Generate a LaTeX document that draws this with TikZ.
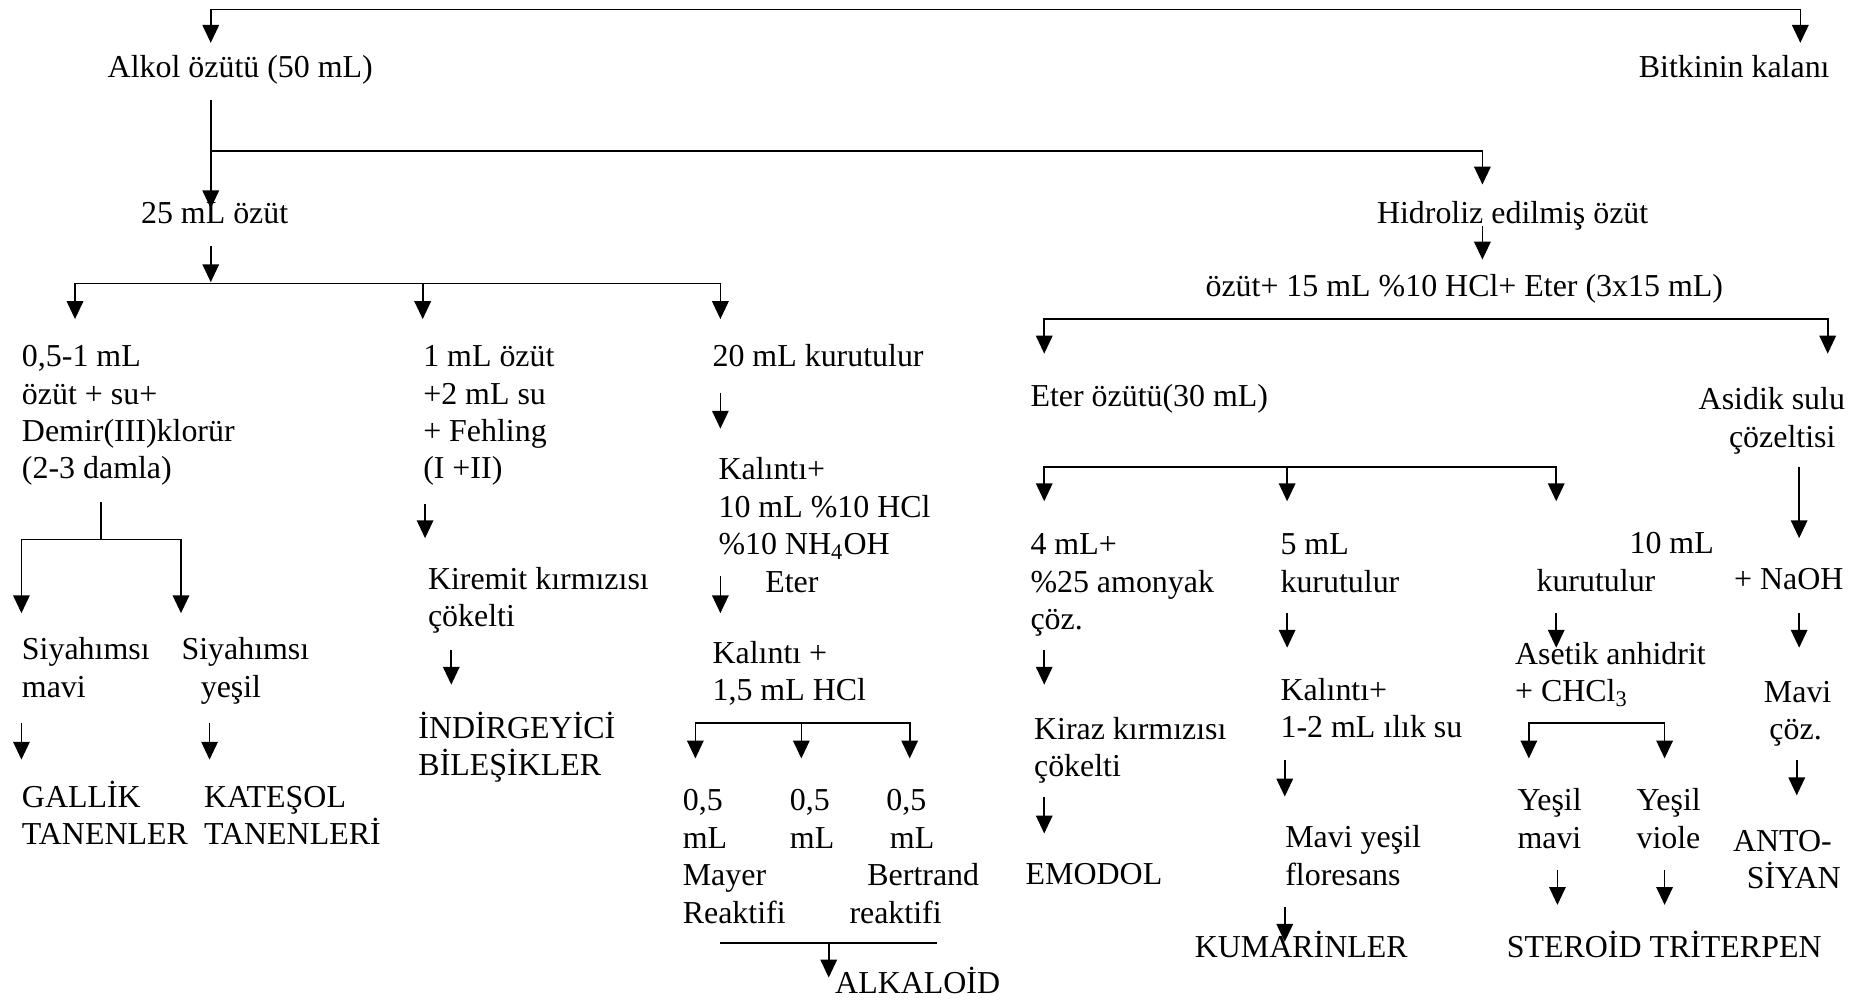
\documentclass[tikz,border=0pt]{standalone}
\usepackage{fontspec}
\setmainfont{Liberation Serif}
\usetikzlibrary{arrows.meta}
\tikzstyle{flowPage} = [x=0.4327pt, y=-0.4327pt]
\tikzstyle{flowText} = [anchor=base west, inner sep=0pt, align=left, font=\fontsize{11.6}{13.6}\selectfont]
\tikzset{lineCount/.style={yshift={-(#1-1)*13.6pt}}}
\tikzstyle{flowLine} = [line width=0.6pt]
\tikzstyle{flowArrow} = [flowLine, -{Triangle[width=6pt, length=6.5pt]}]
\tikzstyle{forkArrow} = [flowLine, {Triangle[width=6pt, length=6.5pt]}-{Triangle[width=6pt, length=6.5pt]}]
\newcommand{\stepArrow}[4]{
  \coordinate (#1Top) at (#2, #3);
  \coordinate (#1Tip) at (#2, #4);
  \draw [flowArrow] (#1Top) -- (#1Tip);
}
\newcommand{\forkBar}[5]{
  \coordinate (#1Left) at (#2, #5);
  \coordinate (#1Right) at (#3, #5);
  \coordinate (#1Corner) at (#3, #4);
  \draw [forkArrow] (#1Left) |- (#1Corner) -- (#1Right);
}

\begin{document}
\begin{tikzpicture}[flowPage]
  \useasboundingbox (0,0) rectangle (1568,840);

  % upper part
  \node [flowText] (alkol) at (90,65) {Alkol özütü (50 mL)};
  \node [flowText, anchor=base east] (kalan) at (1537,65) {Bitkinin kalanı};
  \node [flowText] (ozut) at (118,188) {25 mL özüt};
  \node [flowText] (hidroliz) at (1156,188) {Hidroliz edilmiş özüt};
  \node [flowText] (eterEkle) at (1012,249) {özüt+ 15 mL \%10 HCl+ Eter (3x15 mL)};

  \forkBar{bitki}{177}{1512}{8}{36}
  \stepArrow{alkolDown}{177}{84}{175}
  \coordinate (hidrolizStart) at (178,127);
  \coordinate (hidrolizTip) at (1245,155);
  \draw [flowArrow] (hidrolizStart) -| (hidrolizTip);
  \stepArrow{hidrolizDown}{1245}{190}{218}
  \stepArrow{ozutDown}{177}{207}{237}
  \forkBar{ozutFork}{63}{605}{238}{268}
  \stepArrow{fehlingIn}{355}{238}{268}
  \forkBar{eterFork}{877}{1535}{268}{297}

  % left branch
  \node [flowText, lineCount=4] (demir) at (18,308) {0,5-1 mL\\özüt + su+\\Demir(III)klorür\\(2-3 damla)};
  \coordinate (demirStem) at (85,422);
  \coordinate (demirJoin) at (85,453);
  \draw [flowLine] (demirStem) -- (demirJoin);
  \forkBar{demirFork}{18}{152}{453}{515}
  \node [flowText, lineCount=2] (siyahMavi) at (18,554) {Siyahımsı\\mavi};
  \node [flowText, lineCount=2] (siyahYesil) at (152,554) {Siyahımsı\\\hspace*{7pt}yeşil};
  \stepArrow{galDown}{18}{607}{638}
  \stepArrow{katDown}{176}{607}{638}
  \node [flowText, lineCount=2] (gallik) at (18,678) {GALLİK\\TANENLER};
  \node [flowText, lineCount=2] (katesol) at (171,678) {KATEŞOL\\TANENLERİ};

  \node [flowText, lineCount=4] (fehling) at (355,308) {1 mL özüt\\+2 mL su\\+ Fehling\\(I +II)};
  \stepArrow{fehlingDown}{357}{423}{452}
  \node [flowText, lineCount=2] (kiremit) at (359,495) {Kiremit kırmızısı\\çökelti};
  \stepArrow{kiremitDown}{379}{546}{575}
  \node [flowText, lineCount=2] (indirgeyici) at (351,620) {İNDİRGEYİCİ\\BİLEŞİKLER};

  \node [flowText] (kurutulurA) at (598,308) {20 mL kurutulur};
  \stepArrow{kurADown}{605}{330}{360}
  \node [flowText, lineCount=4] (kalintiA) at (603,403) {Kalıntı+\\10 mL \%10 HCl\\\%10 NH\textsubscript{4}OH\\\hspace*{17pt}Eter};
  \stepArrow{kalADown}{605}{484}{515}
  \node [flowText, lineCount=2] (kalintiB) at (598,557) {Kalıntı +\\1,5 mL HCl};
  \forkBar{reaktifFork}{584}{764}{607}{637}
  \stepArrow{reaktifMid}{673}{607}{637}
  \node [flowText, lineCount=4] (mayer) at (573,681) {0,5\\mL\\Mayer\\Reaktifi};
  \node [flowText, lineCount=2] (orta) at (663,681) {0,5\\mL};
  \node [flowText, lineCount=4] (bertrand) at (713,681) {\hspace*{13.4pt}0,5\\\hspace*{14.7pt}mL\\\hspace*{6.5pt}Bertrand\\reaktifi};
  \coordinate (alkaloidLeft) at (605,792);
  \coordinate (alkaloidRight) at (787,792);
  \draw [flowLine] (alkaloidLeft) -- (alkaloidRight);
  \stepArrow{alkaloidDown}{696}{792}{821}
  \node [flowText] (alkaloid) at (701,834) {ALKALOİD};

  % right branch
  \node [flowText] (eterOzutu) at (865,341) {Eter özütü(30 mL)};
  \node [flowText, anchor=base east, align=right, lineCount=2] (asidik) at (1550,344) {Asidik sulu\\çözeltisi\hspace*{3.5pt}};
  \forkBar{eterSplit}{877}{1307}{392}{421}
  \stepArrow{eterMid}{1081}{392}{421}
  \stepArrow{asidikDown}{1511}{392}{452}

  \node [flowText, lineCount=3] (amonyak) at (865,466) {4 mL+\\\%25 amonyak\\çöz.};
  \stepArrow{amonyakDown}{877}{546}{575}
  \node [flowText, lineCount=2] (kiraz) at (868,621) {Kiraz kırmızısı\\çökelti};
  \stepArrow{kirazDown}{877}{669}{700}
  \node [flowText] (emodol) at (861,743) {EMODOL};

  \node [flowText, lineCount=2] (kurutulurB) at (1075,466) {5 mL\\kurutulur};
  \stepArrow{kurBDown}{1081}{515}{544}
  \node [flowText, lineCount=2] (kalintiC) at (1075,588) {Kalıntı+\\1-2 mL ılık su};
  \stepArrow{kalCDown}{1079}{638}{669}
  \node [flowText, lineCount=2] (maviYesil) at (1079,712) {Mavi yeşil\\floresans};
  \stepArrow{kumarinDown}{1079}{762}{791}
  \node [flowText] (kumarin) at (1003,804) {KUMARİNLER};

  \node [flowText, lineCount=2] (kurutulurC) at (1290,465) {\hspace*{33.8pt}10 mL\\kurutulur};
  \stepArrow{kurCDown}{1307}{515}{544}
  \node [flowText, lineCount=2] (asetik) at (1272,558) {Asetik anhidrit\\+ CHCl\textsubscript{3}};
  \forkBar{asetikFork}{1284}{1398}{607}{637}
  \node [flowText, lineCount=2] (yesilMavi) at (1274,681) {Yeşil\\mavi};
  \node [flowText, lineCount=2] (yesilViole) at (1374,681) {Yeşil\\viole};
  \stepArrow{steroidDown}{1308}{731}{760}
  \stepArrow{triterpenDown}{1398}{731}{760}
  \node [flowText] (steroid) at (1265,804) {STEROİD TRİTERPEN};

  \node [flowText] (naoh) at (1456,495) {+ NaOH};
  \stepArrow{naohDown}{1511}{515}{544}
  \node [flowText, lineCount=2] (maviCoz) at (1481,590) {Mavi\\\hspace*{2pt}çöz.};
  \stepArrow{maviDown}{1509}{638}{668}
  \node [flowText, lineCount=2] (antosiyan) at (1455,715) {ANTO-\\\hspace*{5pt}SİYAN};
\end{tikzpicture}
\end{document}
